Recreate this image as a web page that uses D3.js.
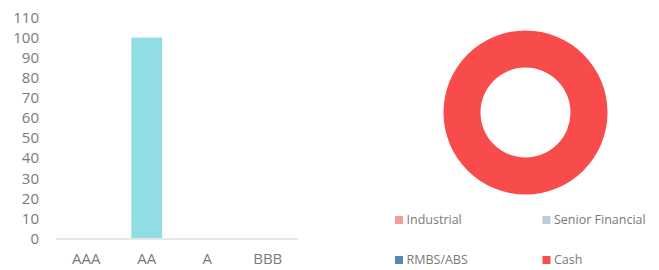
<!DOCTYPE html>
<html>
<head>
<meta charset="utf-8">
<script src="https://cdn.jsdelivr.net/npm/d3@7"></script>
<style>
body { margin: 0; background: #fff; }
svg text { font-family: "Open Sans", "Noto Sans", sans-serif; }
</style>
</head>
<body>
<svg id="chart" width="659" height="270"></svg>
<script>
// ratings bar chart
var ratings = ["AAA", "AA", "A", "BBB"];
var ratingValues = [0, 100, 0, 0];
var yTicks = [0, 10, 20, 30, 40, 50, 60, 70, 80, 90, 100, 110];

// sector donut
var sectors = ["Industrial", "Senior Financial", "RMBS/ABS", "Cash"];
var sectorValues = [0, 0, 0, 100];
var sectorColors = ["#f79a9a", "#b9cde0", "#5a87b0", "#f84c4c"];

var svg = d3.select("#chart");
var textColor = "#7a7a7a";

var x = d3.scaleBand().domain(ratings).range([56, 298]).paddingInner(0.49).paddingOuter(0.245);
var y = d3.scaleLinear().domain([0, 110]).range([238.5, 17.5]);

var bars = svg.append("g");
bars.selectAll("rect").data(ratingValues).enter().append("rect")
	.attr("x", function(d, i){ return x(ratings[i]); })
	.attr("y", function(d){ return y(d); })
	.attr("width", x.bandwidth())
	.attr("height", function(d){ return y(0) - y(d); })
	.attr("fill", "#90dee3");

var yAxis = svg.append("g").attr("transform", "translate(44,0)")
	.call(d3.axisLeft(y).tickValues(yTicks).tickSize(0).tickPadding(5));
yAxis.select(".domain").remove();
yAxis.selectAll("text").attr("fill", textColor).style("font-size", "15px");

svg.append("line")
	.attr("x1", 56).attr("x2", 298)
	.attr("y1", y(0) + 0.5).attr("y2", y(0) + 0.5)
	.attr("stroke", "#e6e6e6").attr("stroke-width", 2);

var xAxis = svg.append("g").attr("transform", "translate(0," + (y(0) + 1) + ")")
	.call(d3.axisBottom(x).tickSize(0).tickPadding(14));
xAxis.select(".domain").remove();
xAxis.selectAll("text").attr("fill", textColor).style("font-size", "15px");

// donut
var pie = d3.pie().sort(null).value(function(d){ return d; });
var arc = d3.arc().innerRadius(45).outerRadius(82);
var donut = svg.append("g").attr("transform", "translate(525.5,112.5)");
donut.selectAll("path").data(pie(sectorValues)).enter().append("path")
	.attr("d", arc)
	.attr("fill", function(d, i){ return sectorColors[i]; });

// legend
var legend = svg.append("g");
var item = legend.selectAll("g").data(sectors).enter().append("g")
	.attr("transform", function(d, i){
		return "translate(" + (i % 2 == 0 ? 395 : 542.5) + "," + (i < 2 ? 220 : 260) + ")";
	});
item.append("rect")
	.attr("x", 0).attr("y", -4).attr("width", 8).attr("height", 8)
	.attr("fill", function(d, i){ return sectorColors[i]; });
item.append("text")
	.attr("x", 11.5).attr("y", 0).attr("dy", "0.35em")
	.attr("fill", textColor).style("font-size", "12.5px")
	.text(function(d){ return d; });
</script>
</body>
</html>
